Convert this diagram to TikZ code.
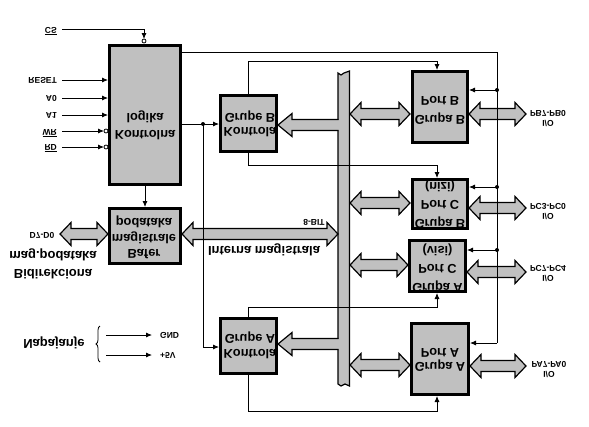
\documentclass[tikz,border=0pt]{standalone}
\usepackage{graphicx}
\usepackage{fontspec}
\setmainfont{Liberation Sans}
\usetikzlibrary{arrows.meta,decorations.pathreplacing,calc}
\definecolor{boxgray}{RGB}{192,192,192}
\newcommand\fl[1]{\scalebox{1}[-1]{#1}}
\newcommand\fltxt[3]{\scalebox{1}[-1]{\fontsize{#1}{#2}\selectfont\bfseries\begin{tabular}{@{}c@{}}#3\end{tabular}}}
\newcommand\dblarrow[3]{%
  \filldraw[fat] (#1,#3) -- ({#1+11},{#3-11.5}) -- ({#1+11},{#3-5.5}) -- ({#2-11},{#3-5.5}) -- ({#2-11},{#3-11.5}) -- (#2,#3) -- ({#2-11},{#3+11.5}) -- ({#2-11},{#3+5.5}) -- ({#1+11},{#3+5.5}) -- ({#1+11},{#3+11.5}) -- cycle;}
\newcommand\busarrow[2]{% tip x, y
  \fill[boxgray] (#1,#2) -- ({#1+14},{#2-11.5}) -- ({#1+14},{#2-5.5}) -- (340,{#2-5.5}) -- (340,{#2+5.5}) -- ({#1+14},{#2+5.5}) -- ({#1+14},{#2+11.5}) -- cycle;
  \draw[fatline] (338.6,{#2-5.5}) -- ({#1+14},{#2-5.5}) -- ({#1+14},{#2-11.5}) -- (#1,#2) -- ({#1+14},{#2+11.5}) -- ({#1+14},{#2+5.5}) -- (338.6,{#2+5.5});}
\begin{document}
\begin{tikzpicture}[x=1pt,y=-1pt,
  blk/.style={draw, line width=3pt, fill=boxgray, inner sep=0pt},
  arr/.style={-{Latex[length=6pt,width=5pt]}, line width=0.8pt},
  wire/.style={line width=0.8pt},
  fat/.style={fill=boxgray, draw=black, line width=1.2pt, line join=miter},
  fatline/.style={draw=black, line width=1.2pt},
  lbl/.style={inner sep=0pt, font=\fontsize{8.5}{10}\selectfont\bfseries},
  txt/.style={inner sep=0pt}]
\useasboundingbox (0,0) rectangle (589,426);

% boxes
\node[blk, minimum width=71pt, minimum height=139pt] (ctl) at (145,115) {};
\node[blk, minimum width=71pt, minimum height=55pt] (buf) at (145,236) {};
\node[blk, minimum width=56pt, minimum height=56pt] (kb) at (248.5,123.5) {};
\node[blk, minimum width=56pt, minimum height=55pt] (ka) at (248.5,346) {};
\node[blk, minimum width=55pt, minimum height=71pt] (pb) at (440,107) {};
\node[blk, minimum width=55pt, minimum height=49pt] (pcl) at (440,204) {};
\node[blk, minimum width=56pt, minimum height=51pt] (pcu) at (437.5,266) {};
\node[blk, minimum width=57pt, minimum height=71pt] (pa) at (440,359) {};

% box texts
\node[txt] (ctlt) at (145,125) {\fltxt{12.8}{17}{Kontrolna\\logika}};
\node[txt] (buft) at (144,237.5) {\fltxt{12.8}{15.5}{Bafer\\magistrale\\podataka}};
\node[txt] (kbt) at (250,123.5) {\fltxt{12.8}{14}{Kontrola\\Grupe B}};
\node[txt] (kat) at (250,344.5) {\fltxt{12.8}{15}{Kontrola\\Grupe A}};
\node[txt] (pbt) at (440,109.5) {\fltxt{12.8}{19}{Grupa B\\Port B}};
\node[txt] (pclt) at (440,204.5) {\fltxt{12.8}{18.5}{Grupa B\\Port C\\(nizi)}};
\node[txt] (pcut) at (437.5,268.5) {\fltxt{12.8}{18.5}{Grupa A\\Port C\\(visi)}};
\node[txt] (pat) at (440,358.5) {\fltxt{12.8}{14.5}{Grupa A\\Port A}};

% internal bus (vertical)
\filldraw[fill=boxgray, draw=black, line width=1.2pt]
  (338,73) -- (341,75) -- (344,73) -- (349.5,71) -- (349.5,386) -- (345,384) -- (341,386) -- (338,384) -- cycle;

% fat arrows
\dblarrow{60}{108}{234}
\dblarrow{182}{338}{234}
\busarrow{278}{125}
\busarrow{278}{344}
\dblarrow{350}{410}{114}
\dblarrow{350}{410}{203}
\dblarrow{350}{408}{265}
\dblarrow{350}{410}{365}
\dblarrow{469}{526}{114}
\dblarrow{469}{526}{208}
\dblarrow{467}{526}{272}
\dblarrow{470}{526}{366}

% bus labels
\node[lbl] (bit) at (314,222) {\fl{8-BIT}};
\node[txt, font=\fontsize{13}{15}\selectfont\bfseries] (imag) at (264,250) {\fl{Interna magistrala}};

% control inputs
\coordinate (csl) at (62,29);
\node[lbl, anchor=east] (cs) at (57,31) {\fl{$\overline{\mbox{\bfseries CS}}$}};
\draw[wire] (csl) -- (144,29) -- (144,36);
\draw[arr] (144,30) -- (144,39);
\draw[wire, fill=white] (144,41) circle (2pt);

\node[lbl, anchor=east] (reset) at (57,80) {\fl{RESET}};
\node[lbl, anchor=east] (a0) at (57,98) {\fl{A0}};
\node[lbl, anchor=east] (a1) at (57,115) {\fl{A1}};
\node[lbl, anchor=east] (wr) at (57,133) {\fl{$\overline{\mbox{\bfseries WR}}$}};
\node[lbl, anchor=east] (rd) at (57,148) {\fl{$\overline{\mbox{\bfseries RD}}$}};
\draw[arr] (62,80) -- (ctl.west |- 0,80);
\draw[arr] (62,98) -- (ctl.west |- 0,98);
\draw[arr] (62,115) -- (ctl.west |- 0,115);
\draw[arr] (62,131) -- (104,131);
\draw[arr] (62,147) -- (104,147);
\draw[wire, fill=white] (106,131) circle (2pt);
\draw[wire, fill=white] (106,147) circle (2pt);

% control to buffer
\draw[arr] (ctl.south) -- (buf.north);

% control to group controls
\coordinate (jn) at (203,124);
\draw[arr] (ctl.east |- jn) -- (kb.west |- jn);
\fill (jn) circle (2pt);
\draw[arr] (jn) |- (ka.west |- 0,347);

% group B control lines
\coordinate (gbt) at (437,61);
\coordinate (gbb) at (437,165);
\draw[arr] (kb.north) |- (gbt) -- (gbt |- pb.north);
\draw[arr] (kb.south) |- (gbb) -- (gbb |- pcl.north);
% group A control lines
\coordinate (gat) at (437,307);
\coordinate (gab) at (437,411);
\draw[arr] (ka.north) |- (gat) -- (gat |- pcu.south);
\draw[arr] (ka.south) |- (gab) -- (gab |- pa.south);

% right control line
\coordinate (rt) at (497,52);
\coordinate (rb) at (497,343);
\draw[wire] (ctl.east |- rt) -- (rt) -- (rb);
\draw[arr] (rb) -- (pa.east |- rb);
\draw[arr] (497,90) -- (pb.east |- 0,90);
\draw[arr] (497,187) -- (pcl.east |- 0,187);
\draw[arr] (497,250) -- (pcu.east |- 0,250);
\fill (497,90) circle (2pt);
\fill (497,187) circle (2pt);
\fill (497,250) circle (2pt);

% I/O labels
\node[lbl] (pbl) at (548,117) {\fltxt{8.5}{10}{I/O\\PB7-PB0}};
\node[lbl] (pcll) at (548,210) {\fltxt{8.5}{10}{I/O\\PC3-PC0}};
\node[lbl] (pcul) at (548,272) {\fltxt{8.5}{10}{I/O\\PC7-PC4}};
\node[lbl] (pal) at (549,368.5) {\fltxt{8.5}{10}{I/O\\PA7-PA0}};

% data bus labels
\node[lbl] (d70) at (42,235) {\fl{D7-D0}};
\node[txt] (bidir) at (53,264) {\fltxt{13}{18}{Bidirekciona\\mag.podataka}};

% power
\node[txt, font=\fontsize{13}{15}\selectfont\bfseries] (napa) at (54,343) {\fl{Napajanje}};
\draw[wire, decorate, decoration={brace, amplitude=4pt}] (100,362) -- (100,326);
\coordinate (g1) at (106,335);
\coordinate (g2) at (106,355);
\node[lbl, anchor=west] (gnd) at (160,335) {\fl{GND}};
\node[lbl, anchor=west] (v5) at (160,355) {\fl{+5V}};
\draw[arr] (g1) -- (152,335);
\draw[arr] (g2) -- (152,355);
\end{tikzpicture}
\end{document}
